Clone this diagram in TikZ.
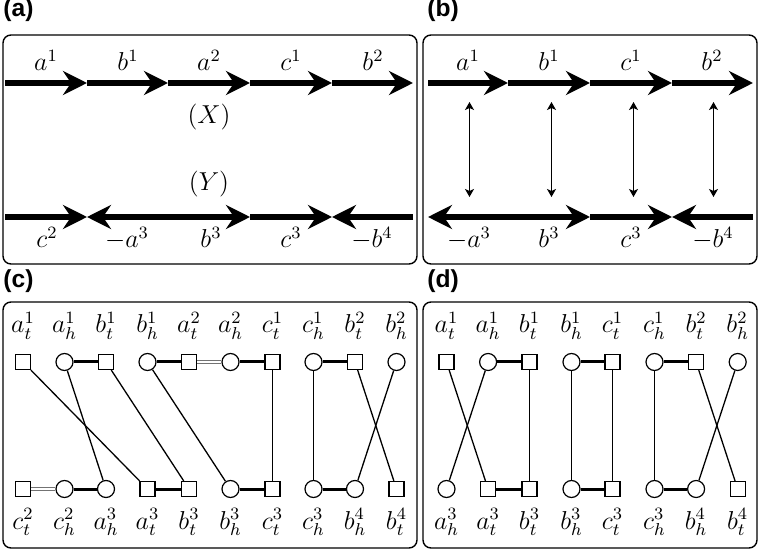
\documentclass[tikz,border=0pt]{standalone}
\usepackage{fontspec}
\newfontfamily\panelfont{Liberation Sans}
\usetikzlibrary{arrows.meta}
\newcommand\mylbl[1]{\scalebox{1.08}{$#1$}}
\tikzset{
  sq/.style={draw, line width=0.6pt, rectangle, minimum size=7.5pt, inner sep=0pt, fill=white},
  ci/.style={draw, line width=0.6pt, circle, minimum size=8.5pt, inner sep=0pt, fill=white},
  lab/.style={anchor=base, inner sep=0pt},
  adj/.style={line width=1.5pt},
  tel/.style={line width=0.65pt},
  dbl/.style={draw=black!55, line width=0.5pt, double=white, double distance=1pt},
  big/.style={line width=3.3pt, -{Stealth[length=12pt,width=12pt,inset=4pt]}},
  corr/.style={line width=0.6pt, {Stealth[length=4pt,width=4.5pt,inset=1pt]}-{Stealth[length=4pt,width=4.5pt,inset=1pt]}},
  panelbox/.style={draw, line width=0.7pt, rounded corners=4pt},
  panelname/.style={anchor=base west, inner sep=0pt, font=\panelfont\bfseries\fontsize{12.3}{14}\selectfont}
}
\begin{document}
\begin{tikzpicture}[x=0.5pt, y=-0.5pt, font=\fontsize{12}{15}\selectfont]
\useasboundingbox (0,0) rectangle (760,550);

% ---------- frames and panel names ----------
\draw[panelbox] (3,35) rectangle (417,264);
\draw[panelbox] (423,35) rectangle (757,264);
\draw[panelbox] (3,302) rectangle (417,548);
\draw[panelbox] (423,302) rectangle (757,548);
\node[panelname] (pa) at (3,17) {(a)};
\node[panelname] (pb) at (427,17) {(b)};
\node[panelname] (pc) at (3,288) {(c)};
\node[panelname] (pd) at (427,288) {(d)};

% ---------- panel (a) ----------
\coordinate (ax0) at (5,83);
\coordinate (ax1) at (87,83);
\coordinate (ax2) at (168,83);
\coordinate (ax3) at (250,83);
\coordinate (ax4) at (332,83);
\coordinate (ax5) at (413,83);
\draw[big] (ax0) -- (ax1);
\draw[big] (ax1) -- (ax2);
\draw[big] (ax2) -- (ax3);
\draw[big] (ax3) -- (ax4);
\draw[big] (ax4) -- (ax5);
\node[lab] (la1) at (46,71) {\mylbl{a^1}};
\node[lab] (la2) at (128,71) {\mylbl{b^1}};
\node[lab] (la3) at (209,71) {\mylbl{a^2}};
\node[lab] (la4) at (291,71) {\mylbl{c^1}};
\node[lab] (la5) at (373,71) {\mylbl{b^2}};
\node[lab] (lX) at (209,124) {\mylbl{(X)}};
\node[lab] (lY) at (209,191) {\mylbl{(Y)}};
\coordinate (ay0) at (5,217);
\coordinate (ay1) at (87,217);
\coordinate (ay2) at (168,217);
\coordinate (ay3) at (250,217);
\coordinate (ay4) at (332,217);
\coordinate (ay5) at (413,217);
\draw[big] (ay0) -- (ay1);
\draw[big] (ay2) -- (ay1);
\draw[big] (ay2) -- (ay3);
\draw[big] (ay3) -- (ay4);
\draw[big] (ay5) -- (ay4);
\node[lab] (lb1) at (47,248) {\mylbl{c^2}};
\node[lab] (lb2) at (127,248) {\mylbl{-a^3}};
\node[lab] (lb3) at (211,248) {\mylbl{b^3}};
\node[lab] (lb4) at (291,248) {\mylbl{c^3}};
\node[lab] (lb5) at (372,248) {\mylbl{-b^4}};

% ---------- panel (b) ----------
\coordinate (bx0) at (428,83);
\coordinate (bx1) at (508,83);
\coordinate (bx2) at (590,83);
\coordinate (bx3) at (672,83);
\coordinate (bx4) at (753,83);
\draw[big] (bx0) -- (bx1);
\draw[big] (bx1) -- (bx2);
\draw[big] (bx2) -- (bx3);
\draw[big] (bx3) -- (bx4);
\node[lab] (lc1) at (468,71) {\mylbl{a^1}};
\node[lab] (lc2) at (549,71) {\mylbl{b^1}};
\node[lab] (lc3) at (631,71) {\mylbl{c^1}};
\node[lab] (lc4) at (712,71) {\mylbl{b^2}};
\coordinate (by0) at (428,217);
\coordinate (by1) at (508,217);
\coordinate (by2) at (590,217);
\coordinate (by3) at (672,217);
\coordinate (by4) at (753,217);
\draw[big] (by1) -- (by0);
\draw[big] (by1) -- (by2);
\draw[big] (by2) -- (by3);
\draw[big] (by4) -- (by3);
\node[lab] (ld1) at (469,248) {\mylbl{-a^3}};
\node[lab] (ld2) at (549,248) {\mylbl{b^3}};
\node[lab] (ld3) at (631,248) {\mylbl{c^3}};
\node[lab] (ld4) at (713,248) {\mylbl{-b^4}};
\coordinate (u1) at (469.5,102); \coordinate (v1) at (469.5,197);
\coordinate (u2) at (551.5,102); \coordinate (v2) at (551.5,197);
\coordinate (u3) at (633.5,102); \coordinate (v3) at (633.5,197);
\coordinate (u4) at (713.5,102); \coordinate (v4) at (713.5,197);
\draw[corr] (u1) -- (v1);
\draw[corr] (u2) -- (v2);
\draw[corr] (u3) -- (v3);
\draw[corr] (u4) -- (v4);

% ---------- panel (c) ----------
% top row
\node[sq] (cat1) at (23,362) {};
\node[ci] (cah1) at (64.5,362) {};
\node[sq] (cbt1) at (106,362) {};
\node[ci] (cbh1) at (147.5,362) {};
\node[sq] (cat2) at (189,362) {};
\node[ci] (cah2) at (230.5,362) {};
\node[sq] (cct1) at (272.5,362) {};
\node[ci] (cch1) at (313.5,362) {};
\node[sq] (cbt2) at (355,362) {};
\node[ci] (cbh2) at (396.5,362) {};
\node[lab] at (23,333) {\mylbl{a^1_t}};
\node[lab] at (64.5,333) {\mylbl{a^1_h}};
\node[lab] at (106,333) {\mylbl{b^1_t}};
\node[lab] at (147.5,333) {\mylbl{b^1_h}};
\node[lab] at (189,333) {\mylbl{a^2_t}};
\node[lab] at (230.5,333) {\mylbl{a^2_h}};
\node[lab] at (272.5,333) {\mylbl{c^1_t}};
\node[lab] at (313.5,333) {\mylbl{c^1_h}};
\node[lab] at (355,333) {\mylbl{b^2_t}};
\node[lab] at (396.5,333) {\mylbl{b^2_h}};
% bottom row
\node[sq] (cct2) at (23,489) {};
\node[ci] (cch2) at (64.5,489) {};
\node[ci] (cah3) at (106,489) {};
\node[sq] (cat3) at (147.5,489) {};
\node[sq] (cbt3) at (189,489) {};
\node[ci] (cbh3) at (230.5,489) {};
\node[sq] (cct3) at (272.5,489) {};
\node[ci] (cch3) at (313.5,489) {};
\node[ci] (cbh4) at (355,489) {};
\node[sq] (cbt4) at (396.5,489) {};
\node[lab] at (23,529) {\mylbl{c^2_t}};
\node[lab] at (64.5,529) {\mylbl{c^2_h}};
\node[lab] at (106,529) {\mylbl{a^3_h}};
\node[lab] at (147.5,529) {\mylbl{a^3_t}};
\node[lab] at (189,529) {\mylbl{b^3_t}};
\node[lab] at (230.5,529) {\mylbl{b^3_h}};
\node[lab] at (272.5,529) {\mylbl{c^3_t}};
\node[lab] at (313.5,529) {\mylbl{c^3_h}};
\node[lab] at (355,529) {\mylbl{b^4_h}};
\node[lab] at (396.5,529) {\mylbl{b^4_t}};
% adjacencies
\draw[adj] (cah1) -- (cbt1);
\draw[adj] (cbh1) -- (cat2);
\draw[dbl] (cat2) -- (cah2);
\draw[adj] (cah2) -- (cct1);
\draw[adj] (cch1) -- (cbt2);
\draw[dbl] (cct2) -- (cch2);
\draw[adj] (cch2) -- (cah3);
\draw[adj] (cat3) -- (cbt3);
\draw[adj] (cbh3) -- (cct3);
\draw[adj] (cch3) -- (cbh4);
% extremity links
\draw[tel] (cat1) -- (cat3);
\draw[tel] (cah1) -- (cah3);
\draw[tel] (cbt1) -- (cbt3);
\draw[tel] (cbh1) -- (cbh3);
\draw[tel] (cct1) -- (cct3);
\draw[tel] (cch1) -- (cch3);
\draw[tel] (cbt2) -- (cbt4);
\draw[tel] (cbh2) -- (cbh4);

% ---------- panel (d) ----------
\node[sq] (dat1) at (446.5,362) {};
\node[ci] (dah1) at (488.1,362) {};
\node[sq] (dbt1) at (529.5,362) {};
\node[ci] (dbh1) at (571.5,362) {};
\node[sq] (dct1) at (612.5,362) {};
\node[ci] (dch1) at (654.5,362) {};
\node[sq] (dbt2) at (696.1,362) {};
\node[ci] (dbh2) at (737.7,362) {};
\node[lab] at (446.5,333) {\mylbl{a^1_t}};
\node[lab] at (488.1,333) {\mylbl{a^1_h}};
\node[lab] at (529.5,333) {\mylbl{b^1_t}};
\node[lab] at (571.5,333) {\mylbl{b^1_h}};
\node[lab] at (612.5,333) {\mylbl{c^1_t}};
\node[lab] at (654.5,333) {\mylbl{c^1_h}};
\node[lab] at (696.1,333) {\mylbl{b^2_t}};
\node[lab] at (737.7,333) {\mylbl{b^2_h}};
\node[ci] (dah3) at (446.5,489) {};
\node[sq] (dat3) at (488.1,489) {};
\node[sq] (dbt3) at (529.5,489) {};
\node[ci] (dbh3) at (571.5,489) {};
\node[sq] (dct3) at (612.5,489) {};
\node[ci] (dch3) at (654.5,489) {};
\node[ci] (dbh4) at (696.1,489) {};
\node[sq] (dbt4) at (737.7,489) {};
\node[lab] at (446.5,529) {\mylbl{a^3_h}};
\node[lab] at (488.1,529) {\mylbl{a^3_t}};
\node[lab] at (529.5,529) {\mylbl{b^3_t}};
\node[lab] at (571.5,529) {\mylbl{b^3_h}};
\node[lab] at (612.5,529) {\mylbl{c^3_t}};
\node[lab] at (654.5,529) {\mylbl{c^3_h}};
\node[lab] at (696.1,529) {\mylbl{b^4_h}};
\node[lab] at (737.7,529) {\mylbl{b^4_t}};
\draw[adj] (dah1) -- (dbt1);
\draw[adj] (dbh1) -- (dct1);
\draw[adj] (dch1) -- (dbt2);
\draw[adj] (dat3) -- (dbt3);
\draw[adj] (dbh3) -- (dct3);
\draw[adj] (dch3) -- (dbh4);
\draw[tel] (dat1) -- (dat3);
\draw[tel] (dah1) -- (dah3);
\draw[tel] (dbt1) -- (dbt3);
\draw[tel] (dbh1) -- (dbh3);
\draw[tel] (dct1) -- (dct3);
\draw[tel] (dch1) -- (dch3);
\draw[tel] (dbt2) -- (dbt4);
\draw[tel] (dbh2) -- (dbh4);
\end{tikzpicture}
\end{document}
